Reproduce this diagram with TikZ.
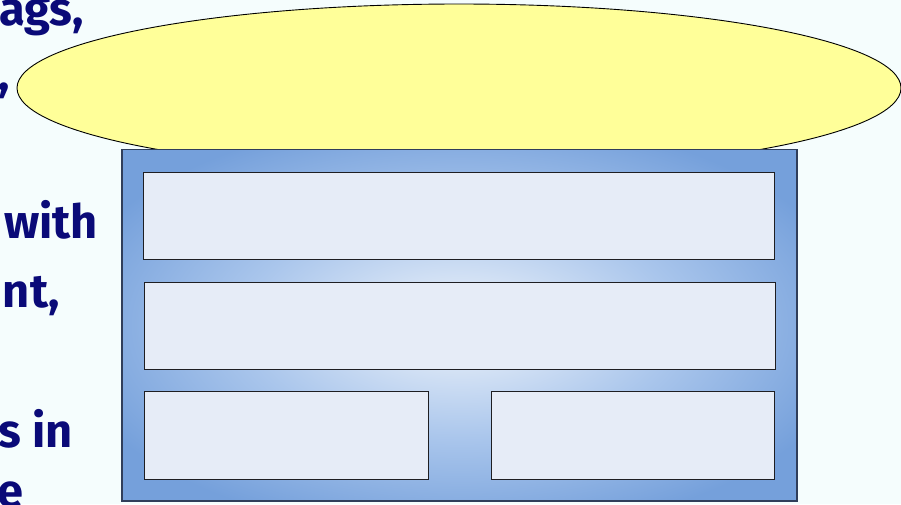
\documentclass[tikz,border=0pt]{standalone}
\usepackage{fontspec}
\usetikzlibrary{shapes.geometric}
\newfontfamily\slidefont{Fira Sans}
\definecolor{bgcol}{RGB}{245,253,253}
\definecolor{elfill}{RGB}{255,255,153}
\definecolor{frameblue}{RGB}{117,160,219}
\definecolor{framemid}{RGB}{170,198,236}
\definecolor{framelight}{RGB}{218,230,246}
\definecolor{frameedge}{RGB}{48,62,90}
\definecolor{boxfill}{RGB}{230,236,247}
\definecolor{boxedge}{RGB}{30,30,34}
\definecolor{navy}{RGB}{10,10,120}
\pgfdeclareradialshading{frameshade}{\pgfpoint{0bp}{0bp}}{color(0bp)=(framelight); color(5bp)=(framelight); color(16bp)=(framemid); color(30bp)=(frameblue); color(50bp)=(frameblue)}
\tikzset{
  slidetext/.style={anchor=base east, inner sep=0pt, text=navy, font=\slidefont\bfseries\fontsize{47}{56}\selectfont},
  panel/.style={draw=boxedge, line width=1pt, fill=boxfill, rectangle, inner sep=0pt},
}
\begin{document}
\begin{tikzpicture}[x=1pt,y=-1pt]
\useasboundingbox (0,0) rectangle (901,504);
\clip (0,0) rectangle (901,504);
\fill[bgcol] (0,0) rectangle (901,504);
% left text fragments
\node[slidetext] (t1) at (84,25) {ags,};
\node[slidetext] (t2) at (10,90) {,};
\node[slidetext] (t3) at (98,238) {with};
\node[slidetext] (t4) at (60,307) {nt,};
\node[slidetext] (t5) at (73,447) {s in};
\node[slidetext] (t6) at (24,507) {e};
% ellipse
\node[ellipse, draw=black, line width=0.9pt, fill=elfill, minimum width=884pt, minimum height=168pt, inner sep=0pt] (ell) at (459,88) {};
% frame
\node[rectangle, draw=frameedge, line width=1.5pt, shading=frameshade, minimum width=675pt, minimum height=351.5pt, inner sep=0pt] (frame) at (459.5,325.25) {};
% panels
\node[panel, minimum width=631pt, minimum height=87pt] (p1) at (458.5,215.5) {};
\node[panel, minimum width=631pt, minimum height=87pt] (p2) at (459.5,325.5) {};
\node[panel, minimum width=284pt, minimum height=87.5pt] (p3) at (286,435.25) {};
\node[panel, minimum width=283pt, minimum height=87.5pt] (p4) at (633,435.25) {};
\end{tikzpicture}
\end{document}
